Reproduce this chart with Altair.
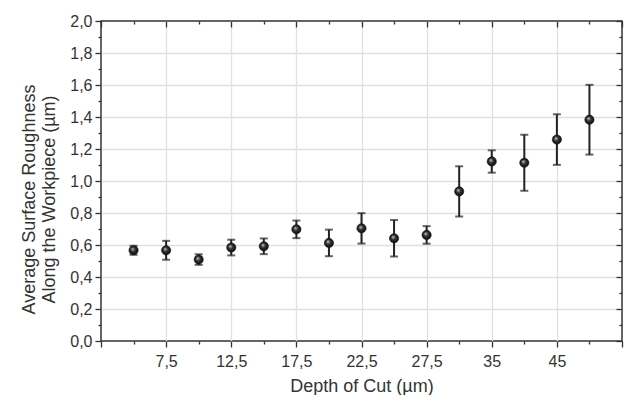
import altair as alt
import pandas as pd

# ---- data ----
depth = [5, 7.5, 10, 12.5, 15, 17.5, 20, 22.5, 25, 27.5, 30, 35, 40, 45, 50]
roughness = [0.567, 0.567, 0.509, 0.584, 0.592, 0.698, 0.613, 0.704, 0.642,
             0.663, 0.935, 1.122, 1.114, 1.259, 1.383]
err = [0.028, 0.059, 0.033, 0.049, 0.049, 0.055, 0.083, 0.095, 0.114,
       0.055, 0.157, 0.070, 0.175, 0.158, 0.218]
# labels at slot positions 0, 2, 4, ..., 16
x_tick_labels = ["", "7,5", "12,5", "17,5", "22,5", "27,5", "35", "45", ""]
y_major = [0.0, 0.2, 0.4, 0.6, 0.8, 1.0, 1.2, 1.4, 1.6, 1.8, 2.0]
y_minor = [0.1, 0.3, 0.5, 0.7, 0.9, 1.1, 1.3, 1.5, 1.7, 1.9]
x_major = [0, 2, 4, 6, 8, 10, 12, 14, 16]
x_minor = [1, 3, 5, 7, 9, 11, 13, 15]

df = pd.DataFrame({
    "pos": list(range(1, len(depth) + 1)),
    "depth": depth,
    "mean": roughness,
    "err": err,
})
df["lo"] = df["mean"] - df["err"]
df["hi"] = df["mean"] + df["err"]

FONT = "Liberation Sans"
DARK = "#333333"
xs = alt.Scale(domain=[0, 16], nice=False, zero=False)
ys = alt.Scale(domain=[0, 2], nice=False, zero=False)

x_label_expr = "[" + ",".join("'%s'" % l for l in x_tick_labels) + "][datum.value/2]"
y_label_expr = "replace(format(datum.value, '.1f'), '.', ',')"

grid_op_x = {"condition": {"test": "datum.value == 0 || datum.value == 16", "value": 0}, "value": 1}
grid_op_y = {"condition": {"test": "datum.value == 0 || datum.value == 2", "value": 0}, "value": 1}

common = dict(domain=False, tickColor=DARK, tickWidth=1.3, labelFont=FONT,
              labelColor=DARK, titleFont=FONT, titleColor=DARK,
              titleFontWeight="normal")


def axis_layer(xaxis=None, yaxis=None):
    return alt.Chart(df).mark_point(opacity=0).encode(
        x=alt.X("pos:Q", scale=xs, axis=xaxis),
        y=alt.Y("mean:Q", scale=ys, axis=yaxis),
    )


layers = [
    # bottom major (labels + grid + title)
    axis_layer(xaxis=alt.Axis(orient="bottom", values=x_major, labelExpr=x_label_expr,
                              tickSize=6, labelFontSize=16, labelPadding=6,
                              grid=True, gridColor="#e0e0e0", gridWidth=1.3,
                              gridOpacity=grid_op_x,
                              title="Depth of Cut (µm)", titleFontSize=18,
                              titleBaseline="alphabetic", titleY=50, **common)),
    # bottom minor
    axis_layer(xaxis=alt.Axis(orient="bottom", values=x_minor, labels=False,
                              tickSize=3, grid=False, title=None, **common)),
    # top major/minor (inward)
    axis_layer(xaxis=alt.Axis(orient="top", values=x_major, labels=False, offset=-6,
                              tickSize=6, grid=False, title=None, **common)),
    axis_layer(xaxis=alt.Axis(orient="top", values=x_minor, labels=False, offset=-3,
                              tickSize=3, grid=False, title=None, **common)),
    # left major (labels + grid + title)
    axis_layer(yaxis=alt.Axis(orient="left", values=y_major, labelExpr=y_label_expr,
                              tickSize=6, labelFontSize=16, labelPadding=3,
                              grid=True, gridColor="#e0e0e0", gridWidth=1.3,
                              gridOpacity=grid_op_y,
                              title=["Average Surface Roughness", "Along the Workpiece (µm)"],
                              titleFontSize=18, titleLineHeight=20,
                              titleX=-63, titleY=178, **common)),
    # left minor
    axis_layer(yaxis=alt.Axis(orient="left", values=y_minor, labels=False,
                              tickSize=3, grid=False, title=None, **common)),
    # right major/minor (inward)
    axis_layer(yaxis=alt.Axis(orient="right", values=y_major, labels=False, offset=-6,
                              tickSize=6, grid=False, title=None, **common)),
    axis_layer(yaxis=alt.Axis(orient="right", values=y_minor, labels=False, offset=-3,
                              tickSize=3, grid=False, title=None, **common)),
]

bars = alt.Chart(df).mark_rule(color="#222222", strokeWidth=2).encode(
    x=alt.X("pos:Q", scale=xs, axis=None),
    y=alt.Y("lo:Q", scale=ys, axis=None),
    y2="hi:Q",
)
cap_lo = alt.Chart(df).mark_tick(color="#222222", orient="horizontal", size=8,
                                 thickness=2).encode(
    x=alt.X("pos:Q", scale=xs, axis=None),
    y=alt.Y("lo:Q", scale=ys, axis=None),
)
cap_hi = alt.Chart(df).mark_tick(color="#222222", orient="horizontal", size=8,
                                 thickness=2).encode(
    x=alt.X("pos:Q", scale=xs, axis=None),
    y=alt.Y("hi:Q", scale=ys, axis=None),
)
sphere = alt.RadialGradient(
    gradient="radial",
    stops=[alt.GradientStop(color="#d0d0d0", offset=0),
           alt.GradientStop(color="#303030", offset=0.45),
           alt.GradientStop(color="#0a0a0a", offset=1)],
    x1=0.38, y1=0.35, r1=0, x2=0.5, y2=0.5, r2=0.55,
)
points = alt.Chart(df).mark_point(filled=True, fill=sphere, stroke="#111111",
                                  strokeWidth=0.6, size=85, opacity=1,
                                  shape="circle").encode(
    x=alt.X("pos:Q", scale=xs, axis=None),
    y=alt.Y("mean:Q", scale=ys, axis=None),
)

chart = alt.layer(*layers, bars, cap_lo, cap_hi, points).resolve_axis(
    x="independent", y="independent"
).properties(
    width=521, height=320,
    autosize=alt.AutoSizeParams(type="none"),
    padding={"left": 93, "top": 13, "right": 2, "bottom": 54},
    background="white",
).configure_view(stroke=DARK, strokeWidth=1.5)

chart.save("out.html", embed_options={"renderer": "svg", "actions": False})
